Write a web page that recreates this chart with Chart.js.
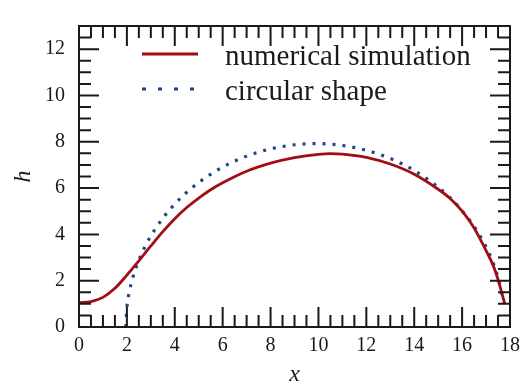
<!DOCTYPE html>
<html>
<head>
<meta charset="utf-8">
<script src="https://cdn.jsdelivr.net/npm/chart.js@4.4.1/dist/chart.umd.min.js"></script>
<style>
  html, body { margin: 0; padding: 0; background: #fff; }
</style>
</head>
<body>
<canvas id="plot" width="527" height="388"></canvas>
<script>
// numerical simulation (red, solid)
var simX = [0, 0.5, 1, 1.5, 2, 2.5, 3, 3.5, 4, 4.5, 5, 5.5, 6, 7, 8, 9, 10, 10.5, 11, 12, 13, 14, 15, 15.5, 16, 16.5, 17, 17.3, 17.5, 17.65, 17.78];
var simH = [1.05, 1.1, 1.28, 1.67, 2.24, 2.86, 3.5, 4.12, 4.68, 5.16, 5.57, 5.93, 6.23, 6.73, 7.08, 7.32, 7.46, 7.49, 7.47, 7.33, 7.04, 6.6, 5.95, 5.55, 5.0, 4.28, 3.3, 2.65, 2.05, 1.5, 1.0];

// circular shape (blue, dotted)
var circX = [1.955, 2.0, 2.1, 2.25, 2.5, 2.75, 3, 3.5, 4, 4.5, 5, 6, 7, 8, 9, 10, 11, 12, 13, 14, 15, 15.5, 16, 16.5, 17, 17.25, 17.5, 17.7];
var circH = [0, 0.84, 1.51, 2.14, 2.89, 3.46, 3.93, 4.70, 5.31, 5.82, 6.24, 6.91, 7.38, 7.69, 7.87, 7.92, 7.84, 7.63, 7.28, 6.76, 6.04, 5.58, 5.02, 4.34, 3.46, 2.89, 2.14, 1.2];

var xTicks = [0, 2, 4, 6, 8, 10, 12, 14, 16, 18];
var yTicks = [0, 2, 4, 6, 8, 10, 12];
var minorStep = 0.5;
var seriesNames = ['numerical simulation', 'circular shape'];

var ink = '#1a1a1a';
var redCol = '#a20c16';
var blueCol = '#1d4888';

Chart.defaults.font.family = "'Liberation Serif', 'DejaVu Serif', serif";
Chart.defaults.color = ink;

function toPoints(xs, ys) {
    return xs.map(function (x, i) { return { x: x, y: ys[i] }; });
}

// frame and inward ticks on all four sides
var frameTicks = {
    id: 'frameTicks',
    afterDraw: function (chart) {
        var ctx = chart.ctx, a = chart.chartArea;
        var xs = chart.scales.x, ys = chart.scales.y;
        var majorLen = 20, minorLen = 12;
        ctx.save();
        ctx.strokeStyle = ink;
        ctx.lineWidth = 2;
        ctx.beginPath();
        for (var v = xs.min; v <= xs.max + 1e-9; v += minorStep) {
            var len = xTicks.indexOf(v) >= 0 ? majorLen : minorLen;
            var px = xs.getPixelForValue(v);
            ctx.moveTo(px, a.bottom); ctx.lineTo(px, a.bottom - len);
            ctx.moveTo(px, a.top); ctx.lineTo(px, a.top + len);
        }
        for (var w = ys.min; w <= ys.max + 1e-9; w += minorStep) {
            var len2 = yTicks.indexOf(w) >= 0 ? majorLen : minorLen;
            var py = ys.getPixelForValue(w);
            ctx.moveTo(a.left, py); ctx.lineTo(a.left + len2, py);
            ctx.moveTo(a.right, py); ctx.lineTo(a.right - len2, py);
        }
        ctx.stroke();
        ctx.strokeRect(a.left, a.top, a.right - a.left, a.bottom - a.top);
        ctx.restore();
    }
};

// legend inside the plot, upper left
var legendBox = {
    id: 'legendBox',
    afterDraw: function (chart) {
        var ctx = chart.ctx;
        ctx.save();
        ctx.font = "29px 'Liberation Serif', serif";
        ctx.fillStyle = ink;
        ctx.textBaseline = 'alphabetic';
        chart.data.datasets.forEach(function (ds, i) {
            var y = 54 + i * 35;
            ctx.strokeStyle = ds.borderColor;
            ctx.lineWidth = ds.borderWidth;
            ctx.lineCap = 'butt';
            ctx.setLineDash(i === 1 ? [4, 12] : []);
            ctx.beginPath();
            ctx.moveTo(142, y);
            ctx.lineTo(198, y);
            ctx.stroke();
            ctx.setLineDash([]);
            ctx.fillText(ds.label, 225, y + 11);
        });
        ctx.restore();
    }
};

var chart = new Chart(document.getElementById('plot').getContext('2d'), {
    type: 'line',
    data: {
        datasets: [{
            label: seriesNames[0],
            data: toPoints(simX, simH),
            borderColor: redCol,
            borderWidth: 2.8,
            pointRadius: 0,
            fill: false,
            cubicInterpolationMode: 'monotone'
        }, {
            label: seriesNames[1],
            data: toPoints(circX, circH),
            borderColor: blueCol,
            borderWidth: 3.2,
            borderDash: [3, 7],
            borderCapStyle: 'butt',
            pointRadius: 0,
            fill: false,
            cubicInterpolationMode: 'monotone'
        }]
    },
    options: {
        responsive: false,
        animation: false,
        events: [],
        layout: { padding: { left: 0, top: 11, right: 10, bottom: 0 } },
        plugins: {
            legend: { display: false },
            tooltip: { enabled: false }
        },
        scales: {
            x: {
                type: 'linear',
                min: 0,
                max: 18,
                grid: { display: false, drawTicks: false },
                border: { display: false },
                afterBuildTicks: function (s) { s.ticks = xTicks.map(function (v) { return { value: v }; }); },
                afterFit: function (s) { s.height = 61; },
                ticks: { padding: 7, font: { size: 20 }, color: ink, maxRotation: 0, autoSkip: false },
                title: { display: true, text: 'x', font: { size: 24, style: 'italic', lineHeight: 1.1 }, color: ink, padding: { top: 0, bottom: 0 } }
            },
            y: {
                type: 'linear',
                min: 0,
                max: 13,
                grid: { display: false, drawTicks: false },
                border: { display: false },
                afterBuildTicks: function (s) { s.ticks = yTicks.map(function (v) { return { value: v }; }); },
                afterFit: function (s) { s.width = 79; },
                ticks: { padding: 14, font: { size: 20 }, color: ink, autoSkip: false },
                title: { display: true, text: 'h', font: { size: 24, style: 'italic' }, color: ink, padding: { top: 9, bottom: 0 } }
            }
        }
    },
    plugins: [frameTicks, legendBox]
});
</script>
</body>
</html>
